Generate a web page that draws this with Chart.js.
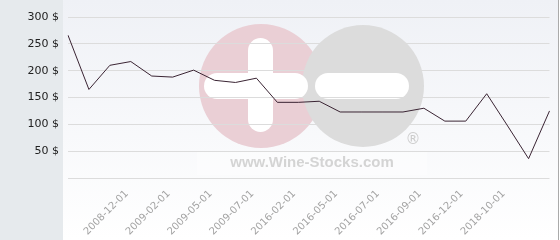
<!DOCTYPE html>
<html>
<head>
<meta charset="utf-8">
<script src="https://cdn.jsdelivr.net/npm/chart.js@4/dist/chart.umd.min.js"></script>
<style>
  html, body { margin: 0; padding: 0; background: #fff; }
  #price_chart { display: block; }
</style>
</head>
<body>
<canvas id="price_chart" width="560" height="240"></canvas>
<script>
// dates of each price point (only some of them are printed under the axis)
const categories = [
    "2008-09-01", "2008-10-01", "2008-11-01", "2008-12-01", "2009-01-01", "2009-02-01",
    "2009-03-01", "2009-05-01", "2009-06-01", "2009-07-01", "2015-12-01", "2016-02-01",
    "2016-03-01", "2016-05-01", "2016-06-01", "2016-07-01", "2016-08-01", "2016-09-01",
    "2016-10-01", "2016-12-01", "2017-06-01", "2018-10-01", "2019-06-01", "2020-06-01"
];
const prices = [266, 165, 210, 217, 190, 188, 201, 182, 178, 186, 141, 141,
                143, 123, 123, 123, 123, 130, 106, 106, 157, 97, 36, 125];
const tickLabels = ["2008-12-01", "2009-02-01", "2009-05-01", "2009-07-01", "2016-02-01",
                    "2016-05-01", "2016-07-01", "2016-09-01", "2016-12-01", "2018-10-01"];
const currency = " $";

// panel background + wine-stocks watermark
const backdrop = {
    id: "backdrop",
    beforeDraw(chart) {
        const c = chart.ctx;
        const h = chart.height;
        c.save();
        c.fillStyle = "#e6eaed";
        c.fillRect(0, 0, 63, h);
        const g = c.createLinearGradient(0, 0, 0, h);
        g.addColorStop(0, "#eff1f6");
        g.addColorStop(1, "#ffffff");
        c.fillStyle = g;
        c.fillRect(63, 0, 495, h);
        c.fillStyle = "#aaaaaa";
        c.fillRect(558, 0, 1, h);

        // logo
        c.fillStyle = "#eacfd5";
        c.beginPath(); c.arc(261, 86, 62, 0, Math.PI * 2); c.fill();
        c.fillStyle = "#dcdcdc";
        c.beginPath(); c.arc(363, 86, 61, 0, Math.PI * 2); c.fill();
        c.fillStyle = "#ffffff";
        const pill = (x, y, pw, ph) => {
            const r = Math.min(pw, ph) / 2;
            c.beginPath(); c.roundRect(x, y, pw, ph, r); c.fill();
        };
        pill(248, 38, 25, 94);
        pill(204, 73, 104, 26);
        pill(315, 73, 94, 26);
        c.fillStyle = "rgba(255,255,255,0.35)";
        c.fillRect(197, 152, 230, 23);
        c.fillStyle = "#d4d4d4";
        c.font = "bold 15px 'Liberation Sans', Arial, sans-serif";
        c.textAlign = "center";
        c.textBaseline = "alphabetic";
        c.fillText("www.Wine-Stocks.com", 312, 167);
        c.fillStyle = "#cccccc";
        c.font = "15px 'DejaVu Sans', sans-serif";
        c.fillText("\u00AE", 413, 144);
        c.restore();
    }
};

const ctx = document.getElementById("price_chart");
const price_chart = new Chart(ctx, {
    type: "line",
    data: {
        labels: categories,
        datasets: [{
            data: prices,
            borderColor: "#3a2433",
            borderWidth: 1,
            pointRadius: 0,
            tension: 0,
            fill: false
        }]
    },
    options: {
        responsive: false,
        animation: false,
        devicePixelRatio: 1,
        layout: { padding: { top: 17, right: 5, left: 0, bottom: 0 } },
        plugins: {
            legend: { display: false },
            tooltip: { enabled: false }
        },
        scales: {
            x: {
                grid: { display: false },
                border: { display: false },
                ticks: {
                    autoSkip: false,
                    minRotation: 45,
                    maxRotation: 45,
                    padding: 2,
                    labelOffset: -4,
                    color: "#a3a3a3",
                    font: { family: "'DejaVu Sans'", size: 10 },
                    callback: function(value) {
                        const lab = this.getLabelForValue(value);
                        return tickLabels.includes(lab) ? lab : "";
                    }
                },
                afterFit(scale) { scale.height = 62; }
            },
            y: {
                min: 0,
                max: 300,
                grid: { color: "#dcdcdc", drawTicks: false },
                border: { display: false },
                ticks: {
                    stepSize: 50,
                    padding: 9,
                    color: "#222222",
                    font: { family: "'DejaVu Sans'", size: 11 },
                    callback: v => v === 0 ? "" : v + currency
                },
                afterFit(scale) { scale.width = 68; }
            }
        }
    },
    plugins: [backdrop]
});
</script>
</body>
</html>
